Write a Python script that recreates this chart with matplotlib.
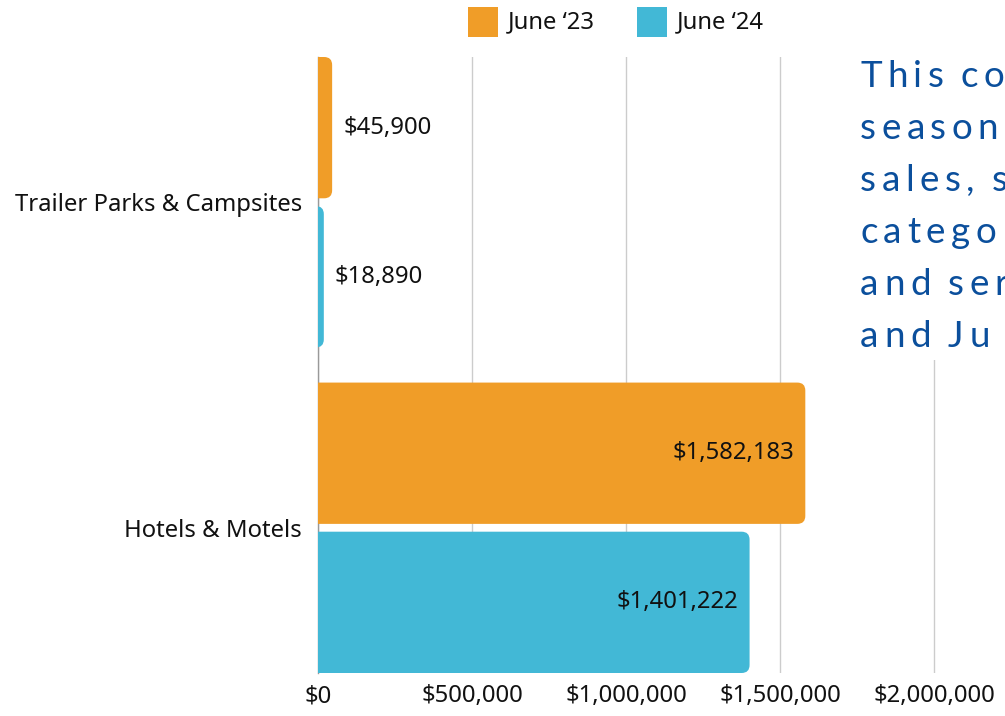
import numpy as np
import matplotlib.pyplot as plt
from matplotlib.patches import FancyBboxPatch, Rectangle
from matplotlib.ticker import FuncFormatter

# datos del grafico
categorias = ['Trailer Parks & Campsites', 'Hotels & Motels']
series = ['June \u201823', 'June \u201824']
junio_23 = [45900, 1582183]
junio_24 = [18890, 1401222]
colores = ['#F09D28', '#42B8D6']
ticks_x = [0, 500000, 1000000, 1500000, 2000000]
nota = ['This compares the', 'seasonal lodging', 'sales, showing', 'category totals',
        'and services for', 'and June \u201824']

plt.rcParams['font.family'] = ['Noto Sans', 'DejaVu Sans']
tam = 17.2

W, H = 1005, 716
fig = plt.figure(figsize=(W / 100, H / 100), dpi=100)
# ejes: x=0 en px 318, 154 px por cada 500k; arriba y=57, abajo y=673
x_max = 2250000
ax = fig.add_axes([318 / W, (H - 673) / H, (x_max / 500000 * 154) / W, (673 - 57) / H])

alto = 0.434
desp = 0.229
y = np.arange(len(categorias))
ax.set_xlim(0, x_max)
ax.set_ylim(1.446, -0.446)

px_x = x_max / (x_max / 500000 * 154)   # datos por pixel en x
px_y = 1.892 / 616                        # datos por pixel en y
radio = 8

for valores, color, d in [(junio_23, colores[0], -desp), (junio_24, colores[1], desp)]:
    for yi, v in zip(y, valores):
        x0 = -radio * 2 * px_x
        caja = FancyBboxPatch((x0, yi + d - alto / 2), v - x0, alto,
                              boxstyle=f'round,pad=0,rounding_size={radio * px_x}',
                              mutation_aspect=px_y / px_x,
                              facecolor=color, edgecolor='none', zorder=3)
        ax.add_patch(caja)
        caja.set_clip_path(ax.patch)
        etiqueta = f'${v:,.0f}'
        if v > 500000:
            ax.text(v - 11 * px_x, yi + d, etiqueta, ha='right', va='center',
                    fontsize=tam, color='#111111', zorder=4)
        else:
            ax.text(v + 11 * px_x, yi + d, etiqueta, ha='left', va='center',
                    fontsize=tam, color='#111111', zorder=4)

ax.set_yticks(y)
ax.set_yticklabels(categorias, fontsize=tam, color='#111111')
ax.set_xticks(ticks_x)
ax.xaxis.set_major_formatter(FuncFormatter(lambda v, p: f'${v:,.0f}'))
ax.tick_params(axis='x', labelsize=tam, colors='#111111', length=0, pad=8)
ax.tick_params(axis='y', length=0, pad=11.5)
ax.grid(axis='x', color='#cccccc', linewidth=1, zorder=0)
ax.set_axisbelow(True)
for s in ['top', 'right', 'bottom']:
    ax.spines[s].set_visible(False)
ax.spines['left'].set_color('#999999')
ax.spines['left'].set_linewidth(1)

# leyenda
for i, (nombre, color) in enumerate(zip(series, colores)):
    x0 = 468 + i * 169
    fig.patches.append(Rectangle((x0 / W, 1 - 37 / H), 30 / W, 30 / H, transform=fig.transFigure,
                                 facecolor=color, edgecolor='none'))
    fig.text((x0 + 40) / W, 1 - 22 / H, nombre, ha='left', va='center', fontsize=tam, color='#111111')

# caja de texto a la derecha, con letras espaciadas (se corta en el borde)
fig.patches.append(Rectangle((846 / W, 1 - 360 / H), 200 / W, 315 / H, transform=fig.transFigure,
                             facecolor='white', edgecolor='none', zorder=2))
render = fig.canvas.get_renderer()
for j, linea in enumerate(nota):
    xp = 860
    yp = 87 + j * 52
    for c in linea:
        if c == ' ':
            xp += 12
            continue
        t = fig.text(xp / W, 1 - yp / H, c, ha='left', va='baseline', fontsize=26.5,
                     color='#0B4F9C', family=['Lato', 'DejaVu Sans'], zorder=3)
        ancho = t.get_window_extent(render).width
        if xp + ancho > W + 3:
            t.remove()
            break
        xp += ancho + 5.5

fig.savefig('out.png', dpi=100)
